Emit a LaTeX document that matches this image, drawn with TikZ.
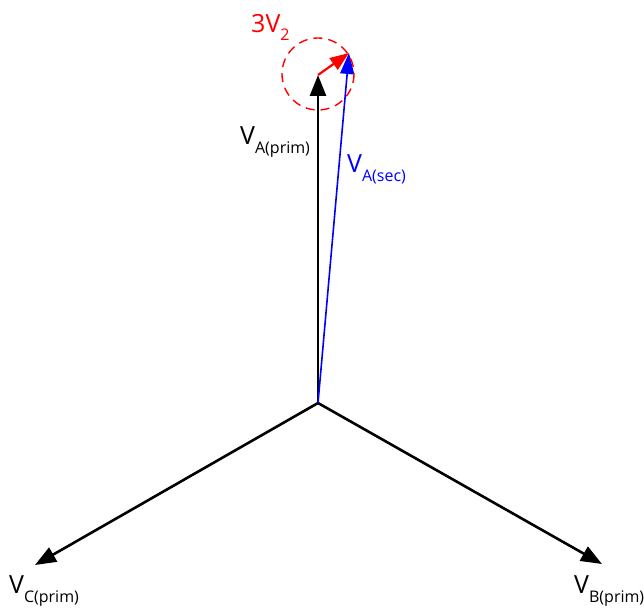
\documentclass[tikz,border=0pt]{standalone}
\usepackage{fontspec}
\setmainfont{Open Sans}
\usetikzlibrary{arrows.meta}
\begin{document}
\begin{tikzpicture}[x=1pt,y=-1pt,
  phasor/.style={line width=2.6pt,-{Triangle[length=21pt,width=16pt]}},
  lbl/.style={inner sep=0pt,anchor=base west,font=\fontsize{25}{28}\selectfont},
]
\useasboundingbox (0,0) rectangle (644,609);
\coordinate (O) at (318,403);
\coordinate (A) at (318,75);
\coordinate (B) at (602,564);
\coordinate (C) at (35,565);
\coordinate (S) at (349,53);
\draw[phasor] (O) -- (A);
\draw[phasor] (O) -- (B);
\draw[phasor] (O) -- (C);
\draw[blue,line width=1.6pt,-{Triangle[length=21pt,width=14pt]}] (O) -- (S);
\draw[red,line width=2.2pt,-{Triangle[length=19pt,width=14pt]}] (A) -- (S);
\draw[red,line width=1.4pt,dash pattern=on 9pt off 6pt] (318,74) circle (36);
\node[lbl] (la) at (240,145) {V\raisebox{-9pt}{\fontsize{16}{18}\selectfont A(prim)}};
\node[lbl,blue] (ls) at (347,173) {V\raisebox{-9pt}{\fontsize{16}{18}\selectfont A(sec)}};
\node[lbl,red] (l3) at (251,33) {3V\raisebox{-8pt}{\fontsize{16}{18}\selectfont 2}};
\node[lbl] (lc) at (9,593) {V\raisebox{-9pt}{\fontsize{16}{18}\selectfont C(prim)}};
\node[lbl] (lb) at (574,593) {V\raisebox{-9pt}{\fontsize{16}{18}\selectfont B(prim)}};
\end{tikzpicture}
\end{document}
